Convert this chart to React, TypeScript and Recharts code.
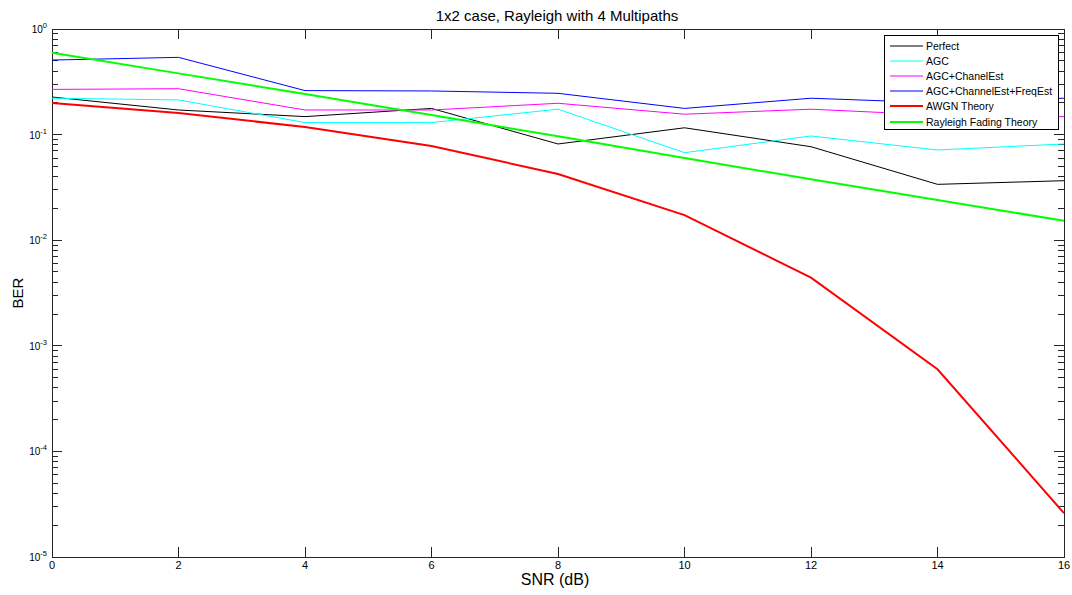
import React from "react";
import {
  LineChart,
  Line,
  XAxis,
  YAxis,
  ReferenceLine,
  ReferenceArea,
  Legend,
} from "recharts";

/* ── data ── */
const snr = [0, 2, 4, 6, 8, 10, 12, 14, 16];
const perfect = [0.227, 0.171, 0.148, 0.177, 0.0815, 0.116, 0.0768, 0.0338, 0.0366];
const agc = [0.221, 0.213, 0.13, 0.13, 0.174, 0.0674, 0.097, 0.0715, 0.0815];
const agcChanEst = [0.268, 0.272, 0.171, 0.171, 0.198, 0.156, 0.174, 0.153, 0.148];
const agcChanFreqEst = [0.508, 0.539, 0.261, 0.259, 0.246, 0.177, 0.221, 0.2, 0.221];
const awgnTheory = [0.199, 0.16, 0.118, 0.078, 0.0424, 0.0173, 0.00442, 0.0006, 0.000026];
const rayleighTheory = [0.597, 0.38, 0.242, 0.153, 0.0964, 0.06, 0.0377, 0.024, 0.0153];

const xTicks = [0, 2, 4, 6, 8, 10, 12, 14, 16];
const decades = [0, -1, -2, -3, -4, -5];

const series = [
  { key: "perfect", name: "Perfect", color: "#000000", width: 1, values: perfect },
  { key: "agc", name: "AGC", color: "#00ffff", width: 1, values: agc },
  { key: "agcChanEst", name: "AGC+ChanelEst", color: "#ff00ff", width: 1, values: agcChanEst },
  { key: "agcChanFreqEst", name: "AGC+ChannelEst+FreqEst", color: "#0000ff", width: 1, values: agcChanFreqEst },
  { key: "awgn", name: "AWGN Theory", color: "#ff0000", width: 2, values: awgnTheory },
  { key: "rayleigh", name: "Rayleigh Fading Theory", color: "#00ff00", width: 2, values: rayleighTheory },
];

const data = snr.map((s, i) => {
  const row: Record<string, number> = { snr: s };
  series.forEach((sr) => (row[sr.key] = sr.values[i]));
  return row;
});

const majorTicks = decades.map((d) => Math.pow(10, d));
const minorTicks: number[] = [];
decades.slice(1).forEach((d) => {
  for (let k = 2; k <= 9; k++) minorTicks.push(k * Math.pow(10, d));
});

const FONT = "'Liberation Sans', Arial, Helvetica, sans-serif";
const AXIS = "#262626";

/* inward tick marks on both sides of a horizontal reference line */
const yTickShape = (len: number) => (p: any) => (
  <g stroke={AXIS} strokeWidth={1} shapeRendering="crispEdges">
    <line x1={p.x1} x2={p.x1 + len} y1={p.y1} y2={p.y1} />
    <line x1={p.x2 - len} x2={p.x2} y1={p.y2} y2={p.y2} />
  </g>
);

/* inward tick marks at top and bottom of a vertical reference line */
const xTickShape = (p: any) => {
  const top = Math.min(p.y1, p.y2);
  const bot = Math.max(p.y1, p.y2);
  return (
    <g stroke={AXIS} strokeWidth={1} shapeRendering="crispEdges">
      <line x1={p.x1} x2={p.x1} y1={top} y2={top + 10} />
      <line x1={p.x1} x2={p.x1} y1={bot - 10} y2={bot} />
    </g>
  );
};

const PowerTick = (props: any) => {
  const { x, y, payload } = props;
  const exp = Math.round(Math.log10(payload.value));
  return (
    <text x={x} y={y + 4} textAnchor="end" fontFamily={FONT} fontSize={10} fill="#000">
      <tspan>10</tspan>
      <tspan dy={-5} fontSize={7.5}>
        {exp}
      </tspan>
    </text>
  );
};

const LegendBox = () => (
  <div
    style={{
      width: 175,
      height: 95,
      boxSizing: "border-box",
      border: "1px solid #000",
      background: "#fff",
      paddingTop: 2,
      fontFamily: FONT,
      fontSize: 10.5,
      color: "#000",
    }}
  >
    {series.map((s) => (
      <div key={s.key} style={{ display: "flex", alignItems: "center", height: 15.2 }}>
        <svg width={35} height={6} style={{ marginLeft: 5 }}>
          <line x1={0} x2={33} y1={3} y2={3} stroke={s.color} strokeWidth={s.width} />
        </svg>
        <span style={{ marginLeft: 1, whiteSpace: "nowrap" }}>{s.name}</span>
      </div>
    ))}
  </div>
);

export default function App() {
  return (
    <div style={{ position: "absolute", left: 0, top: 0, background: "#fff" }}>
      <LineChart
        width={1072}
        height={595}
        data={data}
        margin={{ top: 29, right: 8, bottom: 8, left: 12 }}
      >
        <XAxis
          dataKey="snr"
          type="number"
          domain={[0, 16]}
          ticks={xTicks}
          axisLine={false}
          tickLine={false}
          tickSize={0}
          tickMargin={4}
          height={30}
          tick={{ fontSize: 11, fontFamily: FONT, fill: "#000" }}
          allowDataOverflow
        />
        <YAxis
          type="number"
          scale="log"
          domain={[1e-5, 1]}
          ticks={majorTicks}
          axisLine={false}
          tickLine={false}
          tickSize={0}
          tickMargin={5}
          width={40}
          tick={<PowerTick />}
          allowDataOverflow
        />

        {minorTicks.map((v) => (
          <ReferenceLine key={"m" + v} y={v} shape={yTickShape(6)} />
        ))}
        {majorTicks.map((v) => (
          <ReferenceLine key={"M" + v} y={v} shape={yTickShape(10)} />
        ))}
        {xTicks.map((v) => (
          <ReferenceLine key={"x" + v} x={v} shape={xTickShape} />
        ))}
        <ReferenceArea
          x1={0}
          x2={16}
          y1={1e-5}
          y2={1}
          fill="none"
          fillOpacity={0}
          stroke={AXIS}
          strokeWidth={1}
          shapeRendering="crispEdges"
        />

        {series.map((s) => (
          <Line
            key={s.key}
            dataKey={s.key}
            name={s.name}
            type="linear"
            stroke={s.color}
            strokeWidth={s.width}
            dot={false}
            activeDot={false}
            isAnimationActive={false}
          />
        ))}

        <Legend
          layout="vertical"
          align="center"
          verticalAlign="middle"
          content={<LegendBox />}
          wrapperStyle={{ left: 884, top: 35, width: 175, height: 95 }}
        />

        <text x={557} y={21} textAnchor="middle" fontFamily={FONT} fontSize={15} fill="#000">
          1x2 case, Rayleigh with 4 Multipaths
        </text>
        <text
          x={23}
          y={293}
          transform="rotate(-90 23 293)"
          textAnchor="middle"
          fontFamily={FONT}
          fontSize={15}
          fill="#000"
        >
          BER
        </text>
        <text x={555} y={585} textAnchor="middle" fontFamily={FONT} fontSize={16} fill="#000">
          SNR (dB)
        </text>
      </LineChart>
    </div>
  );
}
